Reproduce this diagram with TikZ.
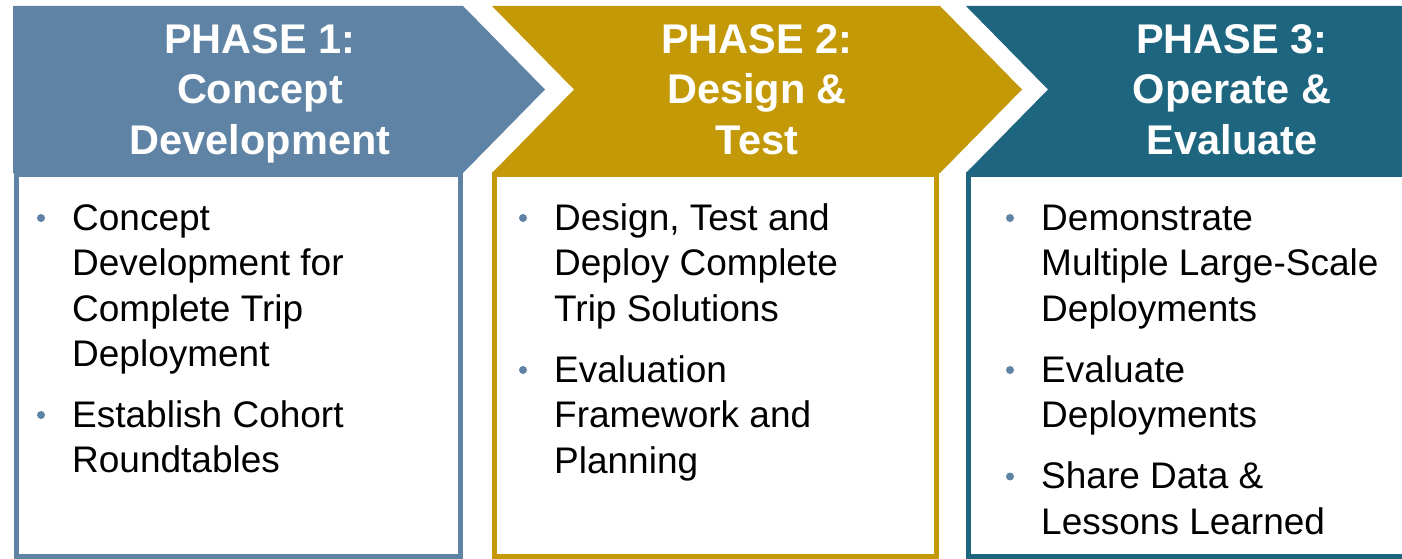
\documentclass[tikz,border=0pt]{standalone}
\usepackage{fontspec}
\setmainfont{Liberation Sans}
\definecolor{pone}{RGB}{94,131,165}
\definecolor{ptwo}{RGB}{196,153,8}
\definecolor{pthree}{RGB}{30,102,128}
\begin{document}
\begin{tikzpicture}[x=1pt,y=-1pt,
  hdrtext/.style={text=white,font=\fontsize{41.5}{50}\selectfont\bfseries,inner sep=0pt,anchor=base},
  bodytext/.style={text=black,font=\fontsize{37}{45.5}\selectfont,inner sep=0pt,anchor=base west},
  bulletdot/.style={circle,fill=pone,draw=none,inner sep=0pt,minimum size=8pt},
  boxframe/.style={line width=5pt,fill=white}]
\useasboundingbox (0,0) rectangle (1402,559);

% panels
\draw[boxframe,draw=pone]   (16.5,174) rectangle (460.5,556.5);
\draw[boxframe,draw=ptwo]   (494.5,174) rectangle (936.5,556.5);
\draw[boxframe,draw=pthree] (968.5,174) rectangle (1420,556.5);

% chevron headers
\fill[pone]   (13,6) -- (463,6) -- (545,89.5) -- (463,173) -- (13,173) -- cycle;
\fill[ptwo]   (492,6) -- (940,6) -- (1022,89.5) -- (940,173) -- (492,173) -- (574,89.5) -- cycle;
\fill[pthree] (966,6) -- (1410,6) -- (1410,173) -- (966,173) -- (1048,89.5) -- cycle;

% header texts
\node[hdrtext] (h1a) at (260,54)  {PHASE 1:};
\node[hdrtext] (h1b) at (260,104) {Concept};
\node[hdrtext] (h1c) at (260,154) {Development};
\node[hdrtext] (h2a) at (757,54)  {PHASE 2:};
\node[hdrtext] (h2b) at (757,104) {Design \&};
\node[hdrtext] (h2c) at (757,154) {Test};
\node[hdrtext] (h3a) at (1232,54)  {PHASE 3:};
\node[hdrtext] (h3b) at (1232,104) {Operate \&};
\node[hdrtext] (h3c) at (1232,154) {Evaluate};

% phase 1 body
\node[bulletdot] (b1a) at (41,218) {};
\node[bodytext] (t1a) at (72,230)   {Concept};
\node[bodytext] (t1b) at (72,275.5) {Development for};
\node[bodytext] (t1c) at (72,321)   {Complete Trip};
\node[bodytext] (t1d) at (72,366.5) {Deployment};
\node[bulletdot] (b1b) at (41,415) {};
\node[bodytext] (t1e) at (72,427)   {Establish Cohort};
\node[bodytext] (t1f) at (72,472.5) {Roundtables};

% phase 2 body
\node[bulletdot] (b2a) at (523,218) {};
\node[bodytext] (t2a) at (554,230)   {Design, Test and};
\node[bodytext] (t2b) at (554,275.5) {Deploy Complete};
\node[bodytext] (t2c) at (554,321)   {Trip Solutions};
\node[bulletdot] (b2b) at (523,370) {};
\node[bodytext] (t2d) at (554,382)   {Evaluation};
\node[bodytext] (t2e) at (554,427.5) {Framework and};
\node[bodytext] (t2f) at (554,473)   {Planning};

% phase 3 body
\node[bulletdot] (b3a) at (1010,218) {};
\node[bodytext] (t3a) at (1041,230)   {Demonstrate};
\node[bodytext] (t3b) at (1041,275.5) {Multiple Large-Scale};
\node[bodytext] (t3c) at (1041,321)   {Deployments};
\node[bulletdot] (b3b) at (1010,370) {};
\node[bodytext] (t3d) at (1041,382)   {Evaluate};
\node[bodytext] (t3e) at (1041,427.5) {Deployments};
\node[bulletdot] (b3c) at (1010,476.5) {};
\node[bodytext] (t3f) at (1041,488.5) {Share Data \&};
\node[bodytext] (t3g) at (1041,534)   {Lessons Learned};
\end{tikzpicture}
\end{document}
